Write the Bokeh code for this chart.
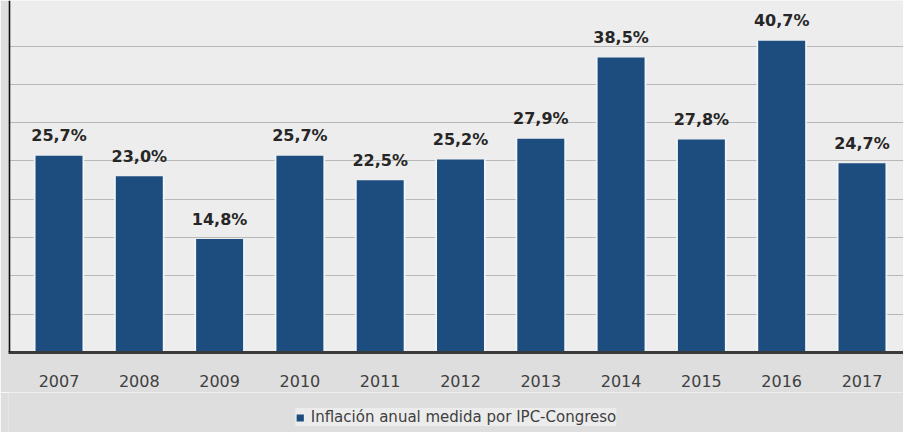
from bokeh.plotting import figure
from bokeh.layouts import column
from bokeh.models import ColumnDataSource, Range1d, FixedTicker, Legend, LegendItem, Span
from bokeh.core.properties import value
from bokeh.embed import file_html
from bokeh.resources import INLINE

years = ["2007", "2008", "2009", "2010", "2011", "2012", "2013", "2014", "2015", "2016", "2017"]
inflation = [25.7, 23.0, 14.8, 25.7, 22.5, 25.2, 27.9, 38.5, 27.8, 40.7, 24.7]
labels = ["25,7%", "23,0%", "14,8%", "25,7%", "22,5%", "25,2%", "27,9%", "38,5%", "27,8%", "40,7%", "24,7%"]
grid_ticks = [5, 10, 15, 20, 25, 30, 35, 40]
series_name = "Inflación anual medida por IPC-Congreso"

BAR_COLOR = "#1d4d7e"
X_START = -0.629
idx = list(range(len(years)))
src = ColumnDataSource(dict(x=idx, top=inflation, label=labels))

p = figure(width=903, height=392, output_backend="svg", toolbar_location=None,
           x_range=Range1d(X_START, 10.517), y_range=Range1d(0, 45.95),
           min_border_left=8, min_border_right=0, min_border_top=0, min_border_bottom=40)
p.background_fill_color = "#ededed"
p.border_fill_color = "#dedede"
p.outline_line_color = None

# glow behind bars
p.vbar(x="x", top="top", width=0.63, source=src, fill_color="#f2f6fa", fill_alpha=0.9,
       line_color=None)
p.vbar(x="x", top="top", width=0.585, source=src, fill_color=BAR_COLOR, line_color=None)

p.text(x="x", y="top", text="label", source=src, text_align="center",
       text_baseline="alphabetic", y_offset=-20, text_font=value("DejaVu Sans"),
       text_font_style="bold", text_font_size="16px", text_color="#262626")

# left dark border line
p.add_layout(Span(location=X_START + 0.01, dimension="height", line_color="#111111",
                  line_width=2))

p.yaxis.visible = False
p.ygrid.ticker = FixedTicker(ticks=grid_ticks)
p.ygrid.grid_line_color = "#b8b8b8"
p.ygrid.grid_line_width = 1
p.xgrid.visible = False

p.xaxis.ticker = FixedTicker(ticks=idx)
p.xaxis.major_label_overrides = {i: y for i, y in enumerate(years)}
p.xaxis.major_tick_line_color = None
p.xaxis.minor_tick_line_color = None
p.xaxis.axis_line_color = "#3a3a3a"
p.xaxis.axis_line_width = 3
p.xaxis.major_label_standoff = 16
p.xaxis.major_label_text_font = "DejaVu Sans"
p.xaxis.major_label_text_font_size = "16px"
p.xaxis.major_label_text_color = "#404040"

# legend strip below the chart
lf = figure(width=903, height=40, output_backend="svg", toolbar_location=None,
            x_range=Range1d(0, 1), y_range=Range1d(0, 1),
            min_border_left=0, min_border_right=0, min_border_top=0, min_border_bottom=0)
lf.background_fill_color = "#dedede"
lf.border_fill_color = "#dedede"
lf.outline_line_color = None
lf.axis.visible = False
lf.grid.visible = False
# key glyph for the legend (kept outside the visible range of this strip)
key = lf.vbar(x=[5], top=[1], width=0.5, fill_color=BAR_COLOR, line_color=None)

legend = Legend(items=[LegendItem(label=series_name, renderers=[key])],
                location="top_center", orientation="horizontal")
legend.background_fill_color = "#ececec"
legend.background_fill_alpha = 1
legend.border_line_color = None
legend.padding = 7
legend.margin = 16
legend.label_text_font = "DejaVu Sans"
legend.label_text_font_size = "15px"
legend.label_text_color = "#404040"
legend.glyph_width = 9
legend.glyph_height = 9
legend.label_standoff = 7
legend.label_height = 18
lf.add_layout(legend, "center")

layout = column(p, lf, spacing=0)
open("out.html", "w").write(file_html(layout, INLINE))
